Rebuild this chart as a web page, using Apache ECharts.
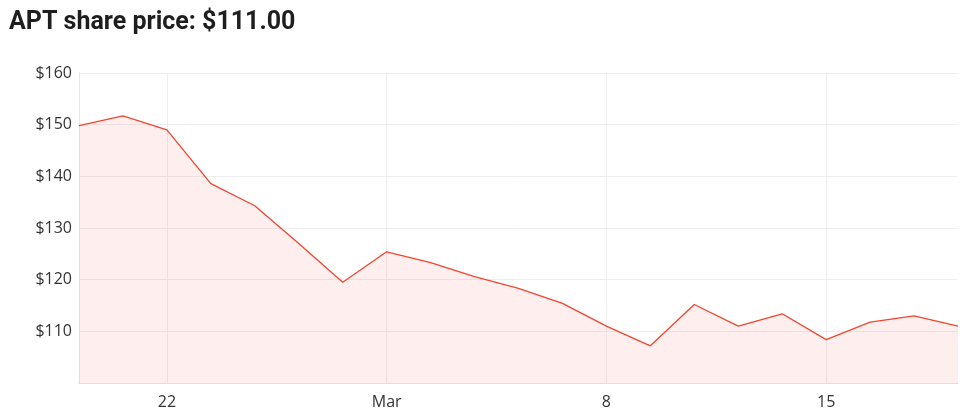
<!DOCTYPE html>
<html>
<head>
<meta charset="utf-8">
<script src="https://cdn.jsdelivr.net/npm/echarts@6/dist/echarts.min.js"></script>
<style>
html,body{margin:0;padding:0;background:#fff;}
#chart{width:980px;height:417px;}
</style>
</head>
<body>
<div id="chart"></div>
<script>
var titleText = 'APT share price: $111.00';
var dates = ['Feb 18','Feb 21','Feb 22','Feb 23','Feb 24','Feb 25','Feb 28','Mar 1','Mar 2','Mar 3','Mar 4','Mar 7','Mar 8','Mar 9','Mar 10','Mar 11','Mar 14','Mar 15','Mar 16','Mar 17','Mar 18'];
var tickLabels = {2:'22', 7:'Mar', 12:'8', 17:'15'};
var prices = [149.8,151.7,149.0,138.6,134.3,127.0,119.5,125.4,123.3,120.6,118.3,115.4,111.0,107.2,115.2,111.0,113.4,108.4,111.8,113.0,111.0];
var yMin = 100, yMax = 160, yStep = 10;

var chart = echarts.init(document.getElementById('chart'), null, {renderer:'canvas'});
chart.setOption({
  animation:false,
  title:{
    text:titleText, left:4, top:5,
    textStyle:{fontFamily:'Roboto', fontWeight:'bold', fontSize:25, color:'#1e1e1e'}
  },
  grid:{left:79, right:22, top:73, bottom:34},
  xAxis:{
    type:'category', data:dates, boundaryGap:false,
    axisLine:{show:true, lineStyle:{color:'#e6dada'}},
    axisTick:{show:false},
    axisLabel:{
      interval:function(i){return tickLabels[i]!==undefined;},
      formatter:function(v,i){return tickLabels[i]||'';},
      color:'#333', fontFamily:'Open Sans', fontSize:16, margin:11
    },
    splitLine:{show:true, interval:function(i){return tickLabels[i]!==undefined;}, lineStyle:{color:'#eeeeee'}}
  },
  yAxis:{
    type:'value', min:yMin, max:yMax, interval:yStep,
    axisLine:{show:true, lineStyle:{color:'#e8e8e8'}},
    axisTick:{show:false},
    axisLabel:{
      formatter:function(v){return v===yMin?'':'$'+v;},
      color:'#333', fontFamily:'Open Sans', fontSize:16, margin:7
    },
    splitLine:{show:true, lineStyle:{color:'#eeeeee'}}
  },
  series:[{
    type:'line', data:prices, symbol:'none',
    lineStyle:{color:'#f2462e', width:1.3},
    areaStyle:{color:'rgba(244,67,54,0.12)'}
  }]
});
</script>
</body>
</html>
